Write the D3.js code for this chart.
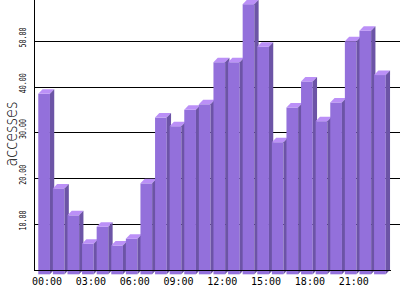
<!DOCTYPE html>
<html>
<head>
<meta charset="utf-8">
<script src="https://cdn.jsdelivr.net/npm/d3@7"></script>
<style>
  body { margin: 0; background: #fff; }
  svg { display: block; }
</style>
</head>
<body>
<svg width="400" height="300"></svg>
<script>
// hourly accesses
const hours = ["00:00", "01:00", "02:00", "03:00", "04:00", "05:00", "06:00", "07:00",
  "08:00", "09:00", "10:00", "11:00", "12:00", "13:00", "14:00", "15:00",
  "16:00", "17:00", "18:00", "19:00", "20:00", "21:00", "22:00", "23:00"];
const accesses = [39.5, 18.8, 12.9, 6.7, 10.4, 6.3, 7.8, 19.9,
  34.3, 32.4, 36.0, 37.2, 46.4, 46.4, 59.1, 49.8,
  28.9, 36.5, 42.2, 33.5, 37.6, 51.0, 53.3, 43.6];
const yTicks = [10, 20, 30, 40, 50];
const xLabels = ["00:00", "03:00", "06:00", "09:00", "12:00", "15:00", "18:00", "21:00"];

const svg = d3.select("svg");
const width = +svg.attr("width");

const x = d3.scaleBand()
  .domain(hours)
  .range([36.8, 387.2])
  .paddingInner(0.2)
  .paddingOuter(0.1);

const y = d3.scaleLinear()
  .domain([0, 60])
  .range([269.8, -4.4]);

const dx = 4.3, dy = 4.5;
const crisp = v => Math.floor(v) + 0.5;

// grid lines
svg.append("g")
  .selectAll("line")
  .data(yTicks)
  .join("line")
  .attr("x1", 34)
  .attr("x2", width)
  .attr("y1", d => crisp(y(d)))
  .attr("y2", d => crisp(y(d)))
  .attr("stroke", "#000")
  .attr("stroke-width", 1);

// 3d bars, drawn left to right so each one hides the side of the last
const bars = svg.append("g")
  .selectAll("g")
  .data(hours.map((h, i) => ({ hour: h, value: accesses[i] })))
  .join("g");

bars.append("rect")
  .attr("x", d => x(d.hour))
  .attr("y", d => y(d.value) + dy)
  .attr("width", x.bandwidth())
  .attr("height", d => y(0) - y(d.value))
  .attr("fill", "#9370db");

bars.append("polygon")
  .attr("points", d => {
    const fx = x(d.hour), w = x.bandwidth(), t = y(d.value);
    return [[fx, t + dy], [fx + dx, t], [fx + w + dx, t], [fx + w, t + dy]].join(" ");
  })
  .attr("fill", "#bb90f7");

bars.append("polygon")
  .attr("points", d => {
    const fx = x(d.hour), w = x.bandwidth(), t = y(d.value), b = y(0);
    return [[fx + w, t + dy], [fx + w + dx, t], [fx + w + dx, b], [fx + w, b + dy]].join(" ");
  })
  .attr("fill", "#6c54a6");

// axes lines
svg.append("line")
  .attr("x1", 34.5).attr("x2", 34.5)
  .attr("y1", 0).attr("y2", 270.5)
  .attr("stroke", "#000");

svg.append("line")
  .attr("x1", 34).attr("x2", 391)
  .attr("y1", 270.5).attr("y2", 270.5)
  .attr("stroke", "#000");

// tick labels
svg.append("g")
  .selectAll("text")
  .data(yTicks)
  .join("text")
  .attr("transform", d => `translate(25.5,${y(d) - 3.7}) rotate(-90)`)
  .attr("text-anchor", "middle")
  .attr("font-family", "DejaVu Sans Mono")
  .attr("font-size", 9.5)
  .attr("textLength", 20)
  .attr("lengthAdjust", "spacingAndGlyphs")
  .text(d => d3.format(".2f")(d));

svg.append("g")
  .selectAll("text")
  .data(xLabels)
  .join("text")
  .attr("x", d => x(d) + x.bandwidth() / 2 + 3)
  .attr("y", 285)
  .attr("text-anchor", "middle")
  .attr("font-family", "DejaVu Sans Mono")
  .attr("font-size", 10)
  .text(d => d);

svg.append("text")
  .attr("transform", "translate(16.5,134) rotate(-90)")
  .attr("text-anchor", "middle")
  .attr("font-family", "DejaVu Sans")
  .attr("font-weight", 200)
  .attr("font-size", 18)
  .attr("textLength", 65)
  .attr("lengthAdjust", "spacingAndGlyphs")
  .attr("fill", "#000")
  .text("accesses");
</script>
</body>
</html>
